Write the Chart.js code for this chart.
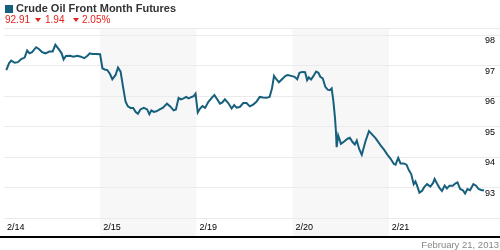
<!DOCTYPE html>
<html>
<head>
<meta charset="utf-8">
<script src="https://cdn.jsdelivr.net/npm/chart.js@4/dist/chart.umd.min.js"></script>
<style>
  html, body { margin: 0; padding: 0; background: #fff; }
  #wrap { position: relative; width: 500px; height: 250px; overflow: hidden; font-family: "Liberation Sans", Arial, sans-serif; }
  #chart { position: absolute; left: 0; top: 0; }
  .swatch { position: absolute; left: 5px; top: 5px; width: 8px; height: 8px; background: #17607d; }
  .title { position: absolute; left: 16px; top: 3px; font-size: 11px; line-height: 11px; font-weight: bold; color: #333; white-space: nowrap; }
  .quote { position: absolute; top: 15px; font-size: 10px; line-height: 10px; color: #e3211c; white-space: nowrap; }
  .down { position: absolute; top: 18px; width: 0; height: 0; border-left: 3.5px solid transparent; border-right: 3.5px solid transparent; border-top: 4px solid #e3211c; }
  .stamp { position: absolute; right: 1px; top: 240px; font-size: 9.5px; line-height: 10px; color: #888; white-space: nowrap; }
</style>
</head>
<body>
<div id="wrap">
  <canvas id="chart" width="500" height="250"></canvas>
  <div class="swatch"></div>
  <div class="title">Crude Oil Front Month Futures</div>
  <span class="quote" style="left:5px">92.91</span>
  <span class="down" style="left:35px"></span>
  <span class="quote" style="left:45px">1.94</span>
  <span class="down" style="left:73px"></span>
  <span class="quote" style="left:82px">2.05%</span>
  <div class="stamp">February 21, 2013</div>
</div>
<script>
// Crude oil front month, intraday over five sessions (x = session index + fraction of day)
const dayLabels = ['2/14', '2/15', '2/19', '2/20', '2/21'];
const shadedDays = [1, 3];
const priceTicks = [93, 94, 95, 96, 97, 98];
const priceMin = 92;
const priceMax = 98.23;

const times = [
    0.024, 0.052, 0.075, 0.111, 0.145, 0.179, 0.214, 0.241, 0.265, 0.292,
    0.334, 0.362, 0.396, 0.431, 0.472, 0.506, 0.534, 0.575, 0.599, 0.620,
    0.644, 0.689, 0.720, 0.764, 0.799, 0.834, 0.868, 0.892, 0.919, 0.954, 0.999,
    1.023, 1.046, 1.074, 1.102, 1.126, 1.160, 1.185, 1.212, 1.240, 1.264,
    1.288, 1.315, 1.343, 1.367, 1.392, 1.418, 1.454, 1.488, 1.511, 1.532,
    1.557, 1.584, 1.619, 1.653, 1.694, 1.728, 1.763, 1.787, 1.815, 1.839,
    1.867, 1.894, 1.918, 1.952, 1.970, 1.991,
    2.014, 2.038, 2.063, 2.090, 2.125, 2.159, 2.187, 2.211, 2.245, 2.270,
    2.296, 2.331, 2.366, 2.393, 2.417, 2.451, 2.487, 2.521, 2.555, 2.590,
    2.624, 2.658, 2.693, 2.727, 2.761, 2.786, 2.807, 2.831, 2.858, 2.900,
    2.927, 2.951, 2.985,
    3.020, 3.048, 3.071, 3.099, 3.130, 3.151, 3.168, 3.192, 3.216, 3.244,
    3.268, 3.288, 3.313, 3.340, 3.365, 3.388, 3.406, 3.423, 3.440, 3.450,
    3.458, 3.474, 3.492, 3.502, 3.536, 3.571, 3.595, 3.623, 3.647, 3.667,
    3.691, 3.719, 3.760, 3.794, 3.864, 3.915, 3.950, 3.985,
    4.019, 4.053, 4.070, 4.098, 4.122, 4.156, 4.184, 4.208, 4.233, 4.259,
    4.277, 4.294, 4.318, 4.346, 4.370, 4.398, 4.432, 4.460, 4.476, 4.501,
    4.528, 4.553, 4.580, 4.604, 4.631, 4.666, 4.690, 4.714, 4.742, 4.770,
    4.793, 4.817, 4.845, 4.879, 4.907, 4.933, 4.966, 4.990
];

const prices = [
    96.85, 97.07, 97.16, 97.09, 97.11, 97.21, 97.26, 97.49, 97.40, 97.44,
    97.60, 97.54, 97.44, 97.40, 97.46, 97.46, 97.68, 97.51, 97.40, 97.20,
    97.31, 97.32, 97.29, 97.32, 97.29, 97.24, 97.32, 97.40, 97.38, 97.38, 97.37,
    96.91, 96.87, 96.85, 96.72, 96.55, 96.69, 96.93, 96.80, 96.25, 95.81,
    95.66, 95.61, 95.61, 95.48, 95.42, 95.56, 95.61, 95.56, 95.40, 95.53,
    95.48, 95.50, 95.56, 95.62, 95.75, 95.66, 95.53, 95.56, 95.94, 95.89,
    95.92, 95.97, 95.92, 95.97, 95.99, 96.08,
    95.46, 95.59, 95.67, 95.61, 95.81, 95.94, 96.03, 95.92, 95.75, 95.79,
    95.89, 95.77, 95.59, 95.70, 95.62, 95.64, 95.77, 95.77, 95.66, 95.72,
    95.81, 95.97, 95.95, 95.94, 95.97, 96.25, 96.66, 96.55, 96.45, 96.58,
    96.66, 96.69, 96.66,
    96.63, 96.55, 96.76, 96.79, 96.78, 96.52, 96.61, 96.54, 96.65, 96.80,
    96.76, 96.63, 96.58, 96.30, 96.21, 96.19, 96.25, 95.86, 95.31, 94.87,
    94.32, 94.71, 94.54, 94.43, 94.51, 94.60, 94.63, 94.49, 94.41, 94.54,
    94.27, 94.07, 94.54, 94.85, 94.61, 94.38, 94.24, 94.08,
    93.94, 93.77, 93.75, 93.97, 93.79, 93.79, 93.75, 93.57, 93.44, 93.11,
    93.20, 93.06, 92.83, 92.89, 93.02, 93.11, 93.03, 93.15, 93.28, 93.13,
    92.98, 92.89, 93.06, 92.97, 93.06, 93.06, 93.13, 93.17, 92.95, 92.91,
    92.80, 92.95, 92.91, 93.11, 93.06, 92.95, 92.91, 92.91
];

const lineColor = '#17607d';
const fontFace = "'Liberation Sans', Arial, sans-serif";

// Alternate day shading behind the grid, plus the heavy rule under the date labels
const sessionBands = {
    id: 'sessionBands',
    beforeDraw(chart) {
        const ctx = chart.ctx;
        const x = chart.scales.x;
        const top = chart.chartArea.top;
        const bottom = x.bottom;
        ctx.save();
        ctx.fillStyle = '#f7f7f7';
        shadedDays.forEach(d => {
            const x0 = x.getPixelForValue(d);
            const x1 = x.getPixelForValue(d + 1);
            ctx.fillRect(x0, top, x1 - x0, bottom - top);
        });
        ctx.restore();
    },
    afterDraw(chart) {
        const ctx = chart.ctx;
        const y = chart.scales.x.bottom;
        ctx.save();
        ctx.fillStyle = '#000';
        ctx.fillRect(0, y, chart.width, 2);
        ctx.restore();
    }
};

new Chart(document.getElementById('chart'), {
    type: 'line',
    data: {
        datasets: [{
            data: times.map((t, i) => ({ x: t, y: prices[i] })),
            borderColor: lineColor,
            borderWidth: 2,
            pointRadius: 0,
            tension: 0,
            fill: false
        }]
    },
    options: {
        responsive: false,
        animation: false,
        devicePixelRatio: 1,
        layout: { padding: { left: 0, right: 0, top: 28, bottom: 14 } },
        plugins: { legend: { display: false }, tooltip: { enabled: false } },
        scales: {
            x: {
                type: 'linear',
                min: 0,
                max: dayLabels.length,
                grid: { display: false, drawTicks: false },
                border: { display: false },
                afterBuildTicks: (scale) => {
                    scale.ticks = dayLabels.map((_, i) => ({ value: i }));
                },
                afterFit: (scale) => { scale.height = 18; },
                ticks: {
                    autoSkip: false,
                    maxRotation: 0,
                    align: 'start',
                    labelOffset: 3,
                    padding: 4,
                    color: '#000',
                    font: { family: fontFace, size: 9 },
                    callback: (val) => dayLabels[val]
                }
            },
            y: {
                position: 'right',
                min: priceMin,
                max: priceMax,
                afterBuildTicks: (scale) => {
                    scale.ticks = [priceMin, ...priceTicks, priceMax].map(v => ({ value: v }));
                },
                afterFit: (scale) => { scale.width = 15; },
                grid: { color: '#ebebeb', lineWidth: 1, tickLength: 15, drawTicks: true },
                border: { display: false },
                ticks: {
                    padding: -15,
                    labelOffset: 6,
                    color: '#000',
                    font: { family: fontFace, size: 9 },
                    callback: (val) => priceTicks.includes(val) ? String(val) : ''
                }
            }
        }
    },
    plugins: [sessionBands]
});
</script>
</body>
</html>
